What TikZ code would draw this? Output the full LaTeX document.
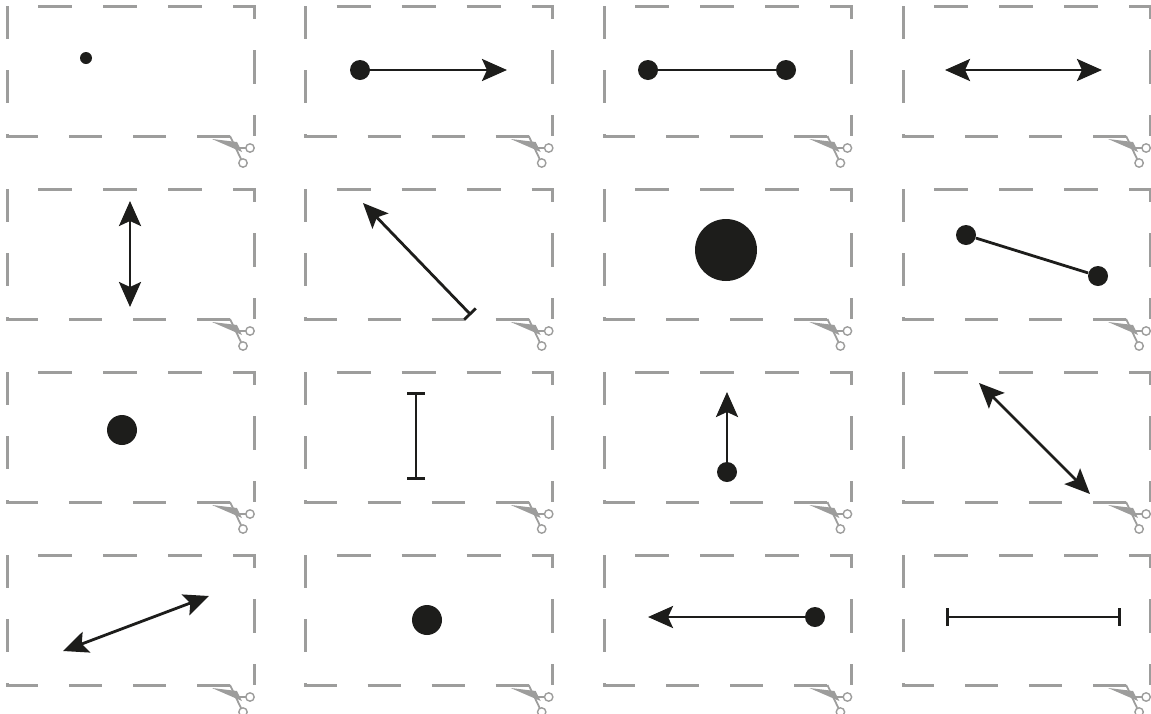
\documentclass[tikz,border=0pt]{standalone}
\usepackage{tikz}
\usetikzlibrary{arrows.meta}

\definecolor{ink}{HTML}{1D1D1B}
\definecolor{cutgray}{HTML}{9D9D9C}

\begin{document}
\begin{tikzpicture}[x=0.5pt,y=-0.5pt,
  cuttop/.style={draw=cutgray,line width=1.5pt,dash pattern=on 17pt off 15.5pt,dash phase=17pt},
  cutside/.style={draw=cutgray,line width=1.5pt,dash pattern=on 16.5pt off 15.5pt},
  scis/.style={cutgray,line width=0.9pt},
  blob/.style={circle,fill=ink,inner sep=0pt,minimum size=#1},
  link/.style={draw=ink,line width=1.4pt},
  >={Stealth[length=12.5pt,width=11pt,inset=2.5pt]}]
\useasboundingbox (0,0) rectangle (1151,713);
% cards with cutting marks
\foreach \L in {7,305.7,604.4,903.1}
  \foreach \T in {6,189,372,555} {
    \draw[cuttop] (\L,\T) -- (\L+247,\T) -- (\L+247,\T+130);
    \draw[cutside] (\L,\T) -- (\L,\T+130) -- (\L+247,\T+130);
    \begin{scope}[shift={(\L+247,\T+130)}]
      \fill[scis] (-42,3) -- (-17,6) -- (-12,16) -- cycle;
      \draw[scis] (-15,12) -- (-8,12);
      \draw[scis] (-24,0) -- (-13,23);
      \draw[scis,line width=0.7pt] (-4,12) circle[radius=2.1pt] (-11,27) circle[radius=2.1pt];
    \end{scope}
  }
% row 1
\node [blob=6pt] (p1) at (86,58) {};
\node [blob=10pt] (p2) at (360,70) {};
\coordinate (q2) at (507,70);
\draw [link,->] (p2) -- (q2);
\node [blob=10pt] (p3) at (648,70) {};
\node [blob=10pt] (q3) at (786,70) {};
\draw [link] (p3) -- (q3);
\coordinate (p4) at (945,70);
\coordinate (q4) at (1102,70);
\draw [link,<->] (p4) -- (q4);
% row 2
\coordinate (p5) at (130,201);
\coordinate (q5) at (130,307);
\draw [link,<->] (p5) -- (q5);
\coordinate (p6) at (471,315);
\coordinate (q6) at (363,203);
\draw [link,{Bar[width=8pt]}->] (p6) -- (q6);
\node [blob=31pt] (p7) at (726,250) {};
\node [blob=10pt] (p8) at (966,235) {};
\node [blob=10pt] (q8) at (1098,276) {};
\draw [link] (p8) -- (q8);
% row 3
\node [blob=15pt] (p9) at (122,430) {};
\coordinate (p10) at (416,392);
\coordinate (q10) at (416,480);
\draw [link,{Bar[width=9pt]}-{Bar[width=9pt]}] (p10) -- (q10);
\node [blob=10pt] (p11) at (727,472) {};
\coordinate (q11) at (727,392);
\draw [link,->] (p11) -- (q11);
\coordinate (p12) at (979,383);
\coordinate (q12) at (1090,494);
\draw [link,<->] (p12) -- (q12);
% row 4
\coordinate (p13) at (63,651);
\coordinate (q13) at (209,596);
\draw [link,<->] (p13) -- (q13);
\node [blob=15pt] (p14) at (427,620) {};
\node [blob=10pt] (p15) at (815,617) {};
\coordinate (q15) at (648,617);
\draw [link,->] (p15) -- (q15);
\coordinate (p16) at (946,617);
\coordinate (q16) at (1121,617);
\draw [link,{Bar[width=9pt]}-{Bar[width=9pt]}] (p16) -- (q16);
\end{tikzpicture}
\end{document}
